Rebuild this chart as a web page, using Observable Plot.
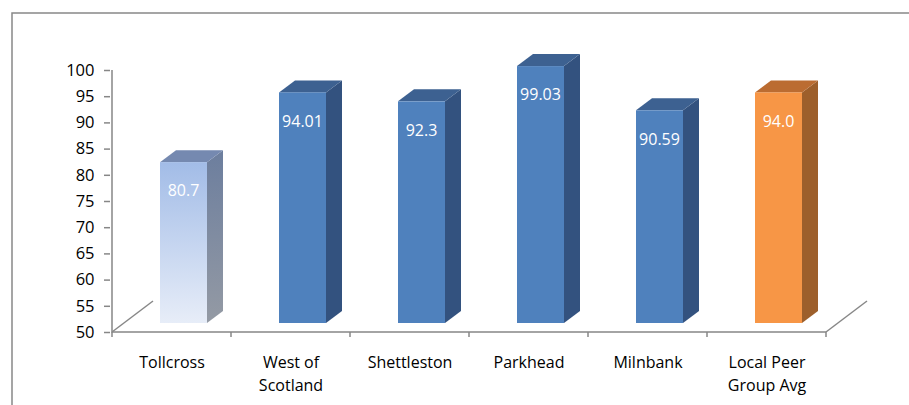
<!DOCTYPE html>
<html>
<head>
<meta charset="utf-8">
<script src="https://cdn.jsdelivr.net/npm/d3@7"></script>
<script src="https://cdn.jsdelivr.net/npm/@observablehq/plot@0.6"></script>
<style>
  html, body { margin: 0; padding: 0; background: #fff; }
  #chart { width: 909px; height: 405px; }
</style>
</head>
<body>
<div id="chart"></div>
<script>
const categories = ["Tollcross", "West of Scotland", "Shettleston", "Parkhead", "Milnbank", "Local Peer Group Avg"];
const axisLabels = ["Tollcross", "West of\nScotland", "Shettleston", "Parkhead", "Milnbank", "Local Peer\nGroup Avg"];
const values = [80.7, 94.01, 92.3, 99.03, 90.59, 94.0];
const valueLabels = ["80.7", "94.01", "92.3", "99.03", "90.59", "94.0"];
const seriesKind = ["highlight", "area", "area", "area", "area", "peer"];
const yTicks = [50, 55, 60, 65, 70, 75, 80, 85, 90, 95, 100];

const palette = {
  area: {front: "#4F81BD", top: "#3D6191", side: "#33527F"},
  peer: {front: "#F79646", top: "#BB6C31", side: "#9D5F2B"},
  highlight: {front: "url(#tollFront)", top: "#7589B0", side: "url(#tollSide)"}
};

const font = "'Open Sans', 'DejaVu Sans', sans-serif";
const axisGray = "#878787";

// 3D projection offsets (pixels)
const floorDx = 41, floorDy = -31;
const barDx = 16, barDy = -12;
const barShiftX = 12, barShiftY = -9;
const barFrontW = 47;

function bars3d(index, scales, vals, dims, ctx) {
  const x = scales.x, y = scales.y;
  const step = x(categories[1]) - x(categories[0]);
  const g = d3.create("svg:g");
  const defs = g.append("defs");
  const gf = defs.append("linearGradient").attr("id", "tollFront").attr("x1", 0).attr("y1", 0).attr("x2", 0).attr("y2", 1);
  gf.append("stop").attr("offset", "0%").attr("stop-color", "#A2BCE7");
  gf.append("stop").attr("offset", "100%").attr("stop-color", "#E7EDF8");
  const gs = defs.append("linearGradient").attr("id", "tollSide").attr("x1", 0).attr("y1", 0).attr("x2", 0).attr("y2", 1);
  gs.append("stop").attr("offset", "0%").attr("stop-color", "#6C7E9E");
  gs.append("stop").attr("offset", "100%").attr("stop-color", "#949AA4");

  const left = x(categories[0]);
  const right = x(categories[categories.length - 1]) + step;
  const base = y(50), top = y(100);

  // outer chart border
  g.append("path").attr("d", `M12,420 L12,13 L925,13`).attr("fill", "none").attr("stroke", "#888").attr("stroke-width", 1.5);

  // floor side edges
  g.append("path").attr("d", `M${left},${base} l${floorDx},${floorDy}`).attr("stroke", axisGray).attr("stroke-width", 1.5).attr("fill", "none");
  g.append("path").attr("d", `M${right},${base} l${floorDx},${floorDy}`).attr("stroke", axisGray).attr("stroke-width", 1.5).attr("fill", "none");

  // axes lines
  g.append("path").attr("d", `M${left},${top} L${left},${base} L${right},${base}`).attr("stroke", axisGray).attr("stroke-width", 1.5).attr("fill", "none");
  // x boundary ticks
  for (let i = 0; i <= categories.length; i++) {
    const xb = left + i * step;
    g.append("line").attr("x1", xb).attr("x2", xb).attr("y1", base).attr("y2", base + 5).attr("stroke", axisGray).attr("stroke-width", 1.5);
  }

  categories.forEach((c, i) => {
    const col = palette[seriesKind[i]];
    const cx = x(c) + step / 2 + barShiftX;
    const x0 = cx - barFrontW / 2, x1 = cx + barFrontW / 2;
    const yb = base + barShiftY, yt = y(values[i]) + barShiftY;
    // side
    g.append("path").attr("d", `M${x1},${yb} L${x1 + barDx},${yb + barDy} L${x1 + barDx},${yt + barDy} L${x1},${yt} Z`).attr("fill", col.side);
    // top
    g.append("path").attr("d", `M${x0},${yt} L${x0 + barDx},${yt + barDy} L${x1 + barDx},${yt + barDy} L${x1},${yt} Z`).attr("fill", col.top);
    // front
    g.append("rect").attr("x", x0).attr("y", yt).attr("width", barFrontW).attr("height", yb - yt).attr("fill", col.front);
    // value label
    g.append("text").attr("x", cx).attr("y", yt + 30).attr("text-anchor", "middle").attr("dominant-baseline", "middle")
      .attr("fill", "#fff").attr("font-family", font).attr("font-size", 16).text(valueLabels[i]);
  });
  return g.node();
}

const chart = Plot.plot({
  width: 909,
  height: 405,
  marginLeft: 110,
  marginRight: 82,
  marginTop: 70,
  marginBottom: 73,
  style: {fontFamily: font, background: "#fff"},
  x: {type: "band", domain: categories, padding: 0, axis: null},
  y: {domain: [50, 100]},
  marks: [
    bars3d,
    Plot.axisY(yTicks, {tickSize: 6, tickPadding: 10, stroke: axisGray, strokeWidth: 1.5, fill: "#000", fontSize: 16.5, label: null, tickFormat: d => String(d)}),
    Plot.text(categories, {x: d => d, text: (d, i) => axisLabels[i], frameAnchor: "bottom", lineAnchor: "top", dy: 19, fontSize: 16, fill: "#000", lineHeight: 1.45})
  ]
});
document.getElementById("chart").appendChild(chart);
</script>
</body>
</html>
